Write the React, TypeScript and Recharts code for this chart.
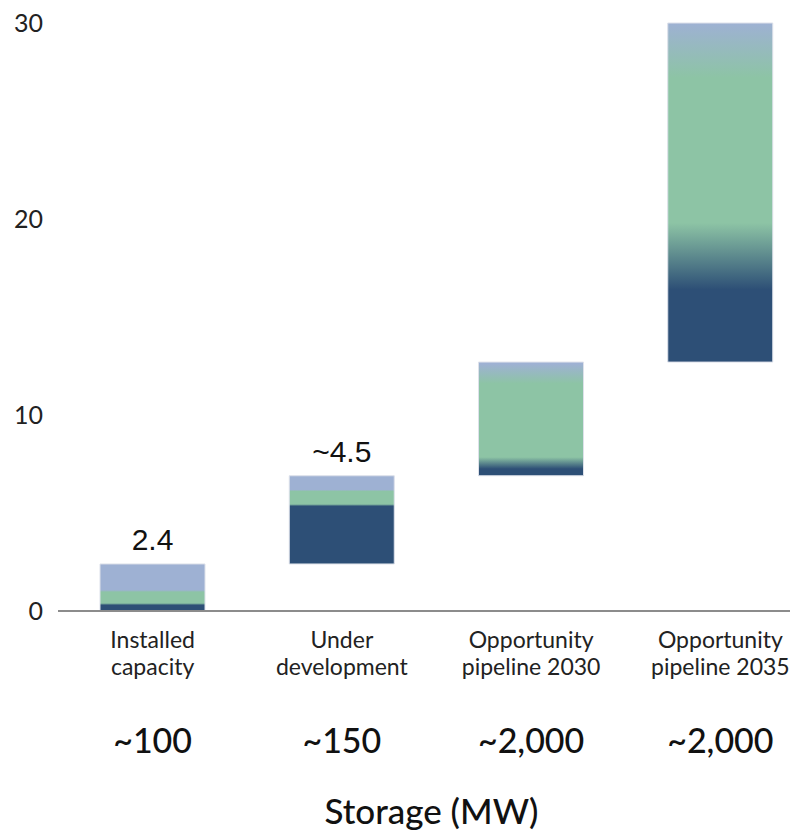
import React from 'react';
import { BarChart, Bar, XAxis, YAxis, Cell, LabelList } from 'recharts';

// values (units on the y axis, cumulative waterfall)
const categories = ['Installed\ncapacity', 'Under\ndevelopment', 'Opportunity\npipeline 2030', 'Opportunity\npipeline 2035'];
const baseValues = [0, 2.4, 6.9, 12.7];
const darkValues = [0.35, 3.0, 0.65, 5.4];
const greenValues = [0.67, 0.75, 4.55, 10.5];
const lightValues = [1.38, 0.75, 0.6, 1.4];
const valueLabels = ['2.4', '~4.5', '', ''];
const storageMw = ['~100', '~150', '~2,000', '~2,000'];
const yTicks = [0, 10, 20, 30];

// how soft each colour change is (half width in axis units)
const blendTop = [0.05, 0.05, 0.5, 1.4];
const blendBottom = [0.05, 0.05, 0.3, 1.7];

const NAVY = '#2d4f76';
const GREEN = '#8dc4a5';
const LIGHT = '#9eb1d3';
const FONT = 'Lato, "Noto Sans", sans-serif';

const data = categories.map((name, i) => {
  const total = darkValues[i] + greenValues[i] + lightValues[i];
  return {
    name,
    range: [baseValues[i], baseValues[i] + total],
    total,
    label: valueLabels[i],
    mw: storageMw[i],
  };
});

const clamp = (v: number) => Math.min(1, Math.max(0, v));

function gradientStops(i: number) {
  const total = data[i].total;
  const b1 = lightValues[i] / total;
  const b2 = (lightValues[i] + greenValues[i]) / total;
  const h1 = blendTop[i] / total;
  const h2 = blendBottom[i] / total;
  return [
    { o: 0, c: LIGHT },
    { o: clamp(b1 - h1), c: LIGHT },
    { o: clamp(b1 + h1), c: GREEN },
    { o: clamp(b2 - h2), c: GREEN },
    { o: clamp(b2 + h2), c: NAVY },
    { o: 1, c: NAVY },
  ];
}

const CategoryTick = (props: any) => {
  const { x, y, payload, index } = props;
  const lines = String(payload.value).split('\n');
  return (
    <g>
      <text x={x} y={y + 37} textAnchor="middle" fontFamily={FONT} fontSize={23} fill="#222">
        {lines[0]}
      </text>
      <text x={x} y={y + 64} textAnchor="middle" fontFamily={FONT} fontSize={23} fill="#222">
        {lines[1]}
      </text>
      <text x={x} y={y + 142} textAnchor="middle" fontFamily={FONT} fontSize={34} fontWeight={500} fill="#111">
        {storageMw[index]}
      </text>
    </g>
  );
};

export default function App() {
  return (
    <div style={{ position: 'absolute', left: 0, top: 0, width: 790, height: 837, overflow: 'hidden', background: '#fff' }}>
      <BarChart width={815} height={837} data={data} margin={{ top: 23, right: 0, left: 0, bottom: 0 }}>
        <defs>
          {data.map((_, i) => (
            <linearGradient key={i} id={`grad-${i}`} x1="0" y1="0" x2="0" y2="1">
              {gradientStops(i).map((s, j) => (
                <stop key={j} offset={s.o} stopColor={s.c} />
              ))}
            </linearGradient>
          ))}
        </defs>
        <XAxis
          dataKey="name"
          interval={0}
          height={226}
          tickLine={false}
          tickSize={0}
          tickMargin={0}
          axisLine={{ stroke: '#8c8c8c', strokeWidth: 2 }}
          tick={<CategoryTick />}
          label={{
            value: 'Storage (MW)',
            position: 'insideBottom',
            offset: 13,
            dx: -5,
            style: { fontFamily: FONT, fontSize: 35, fontWeight: 500, fill: '#111' },
          }}
        />
        <YAxis
          width={58}
          domain={[0, 30]}
          ticks={yTicks}
          axisLine={false}
          tickLine={false}
          tickSize={0}
          tickMargin={15}
          tick={{ fontFamily: FONT, fontSize: 25, fill: '#222' }}
        />
        <Bar dataKey="range" barSize={105} isAnimationActive={false} stroke="#dde1ea" strokeWidth={1}>
          {data.map((_, i) => (
            <Cell key={i} fill={`url(#grad-${i})`} />
          ))}
          <LabelList
            dataKey="label"
            position="top"
            offset={14}
            style={{ fontFamily: '"Liberation Sans", Arial, sans-serif', fontSize: 30, fill: '#111' }}
          />
        </Bar>
      </BarChart>
    </div>
  );
}
